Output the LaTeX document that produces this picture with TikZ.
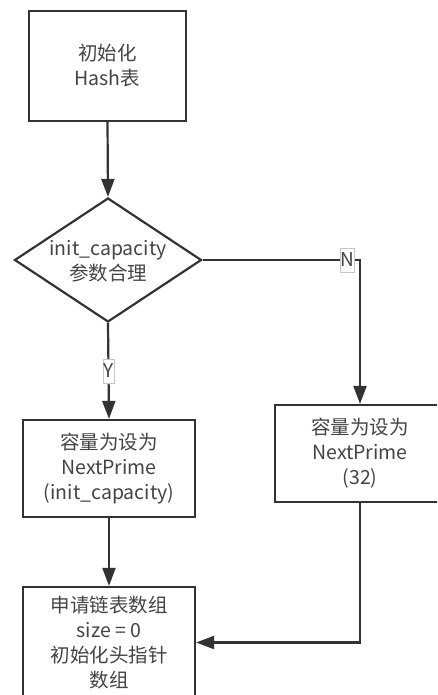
\documentclass[tikz,border=0pt]{standalone}
\usepackage{fontspec}
\setmainfont{Noto Sans CJK SC}
\usetikzlibrary{shapes.geometric,arrows.meta}
\definecolor{ln}{HTML}{333333}
\definecolor{tx}{HTML}{444444}
\begin{document}
\begin{tikzpicture}[x=1pt,y=-1pt,
  every node/.style={font=\fontsize{19.5}{25}\selectfont, text=tx, align=center},
  box/.style={draw=ln, line width=2.2pt, fill=white, inner sep=0pt},
  conn/.style={draw=ln, line width=2.2pt, -{Triangle[length=18pt,width=13pt]}},
  tag/.style={draw=gray!45, line width=0.5pt, fill=white, inner sep=0.5pt, minimum height=24pt, font=\fontsize{19}{20}\selectfont}]
\useasboundingbox (0,0) rectangle (437,695);
\clip (0,0) rectangle (437,695);
\node[box, minimum width=157pt, minimum height=110pt] (b1) at (107.5,66) {初始化\\Hash表};
\node[diamond, draw=ln, line width=2.2pt, minimum width=187pt, minimum height=124pt, inner sep=0pt] (d) at (108,260) {};
\node (dt) at (108,261) {init\_capacity\\参数合理};
\node[box, minimum width=172pt, minimum height=97pt] (b2) at (109,468.5) {容量为设为\\NextPrime\\(init\_capacity)};
\node[box, minimum width=170pt, minimum height=97pt] (b3) at (360,453.5) {容量为设为\\NextPrime\\(32)};
\node[box, minimum width=172pt, minimum height=111pt] (b4) at (109,642.5) {申请链表数组\\size = 0\\初始化头指针\\数组};
\draw[conn] (b1.south) -- (d.north);
\draw[conn] (d.south) -- (b2.north) node[tag, pos=0.5] (y) {Y};
\draw[conn] (d.east) -| (b3.north) node[tag, pos=0.475, xshift=-5pt] (n) {N};
\draw[conn] (b2.south) -- (b4.north);
\draw[conn] (b3.south) |- (b4.east);
\end{tikzpicture}
\end{document}
